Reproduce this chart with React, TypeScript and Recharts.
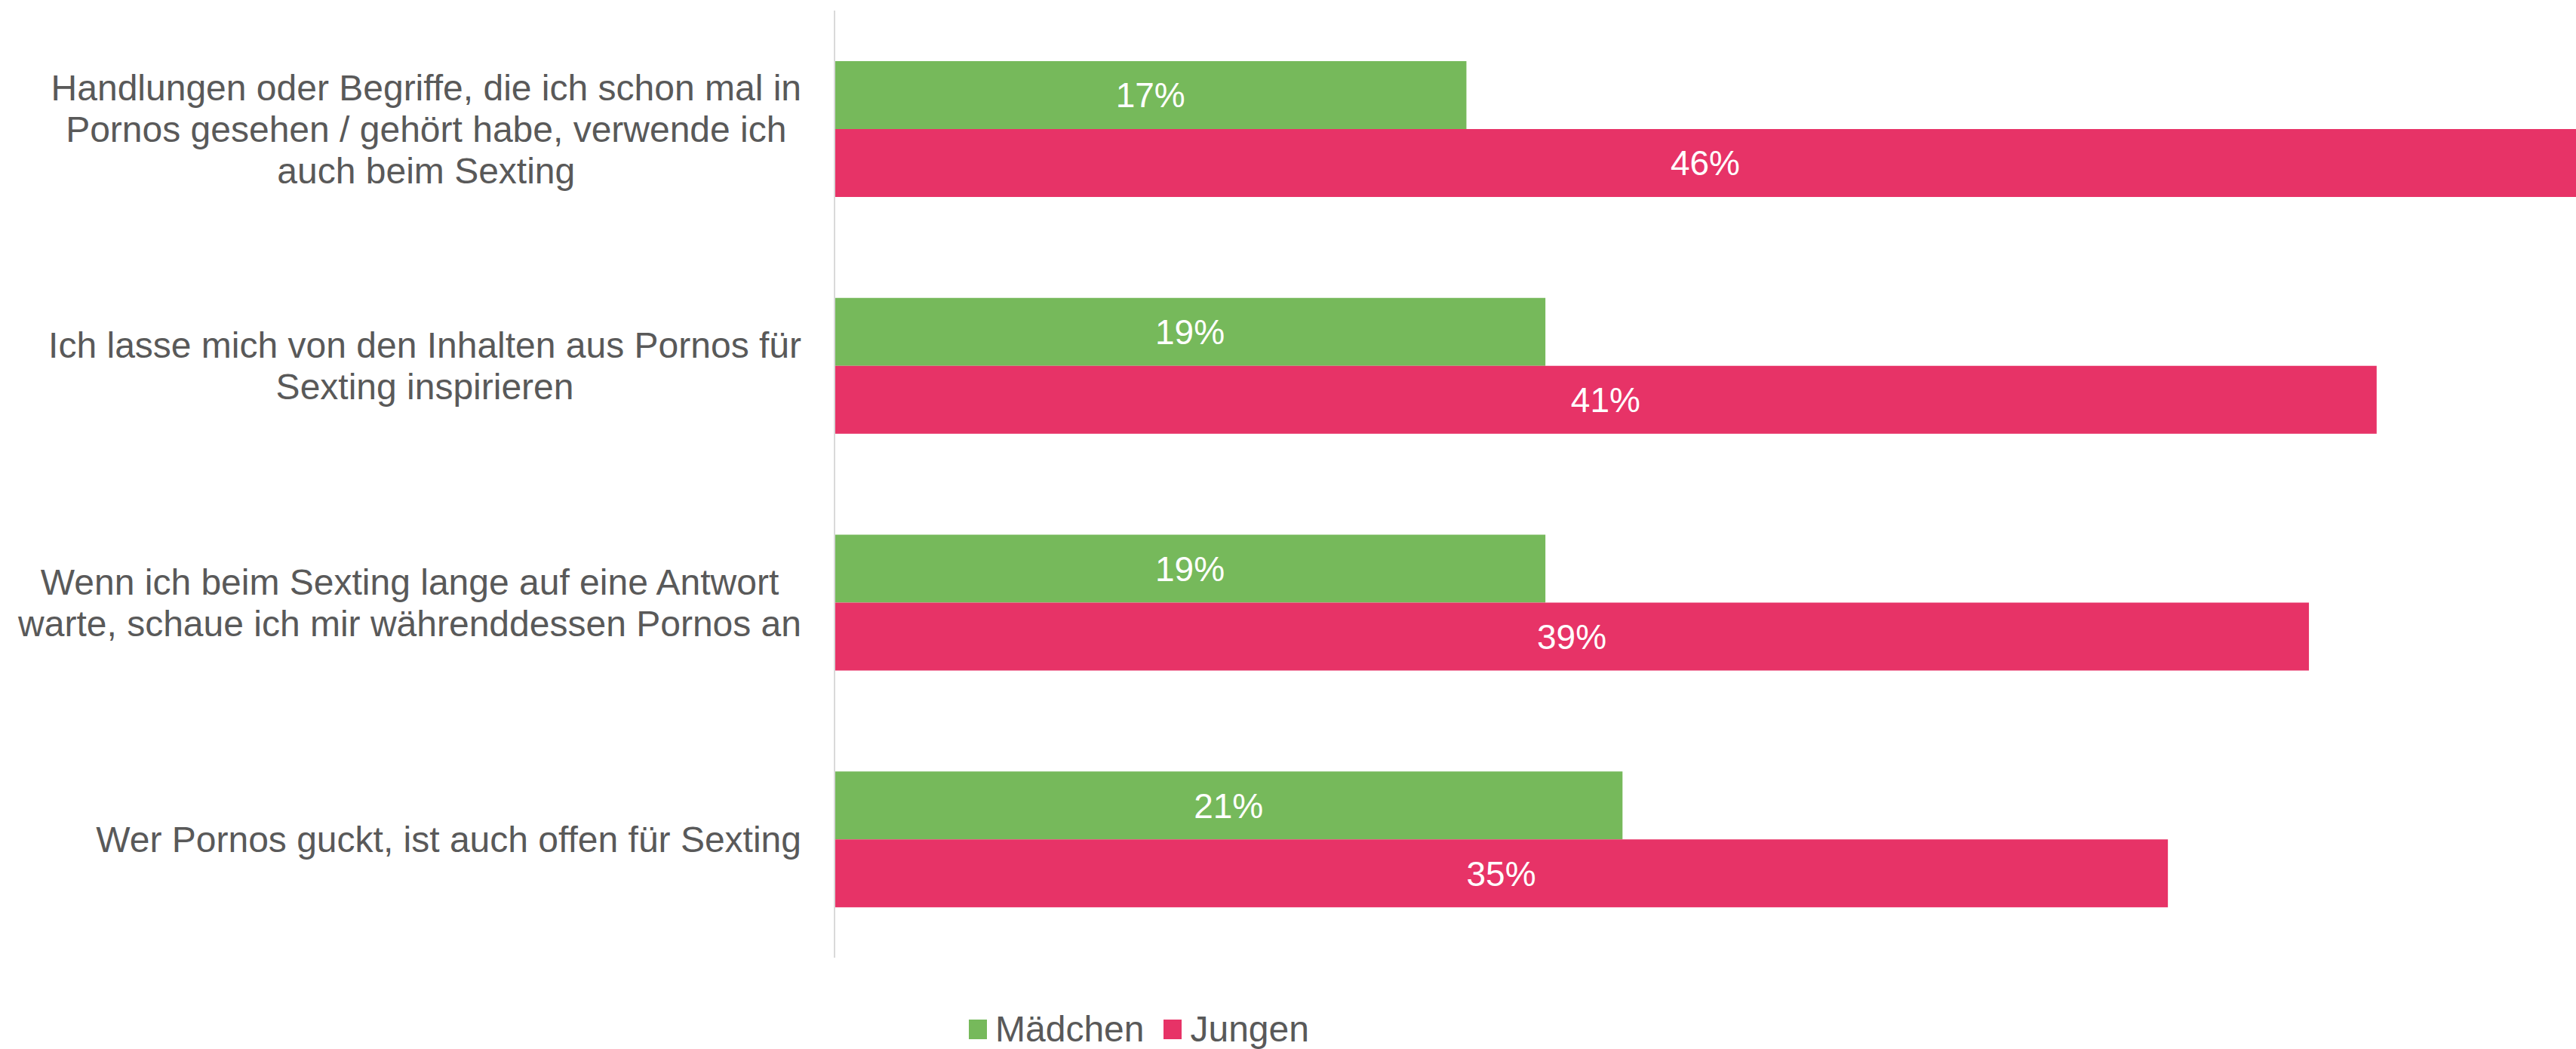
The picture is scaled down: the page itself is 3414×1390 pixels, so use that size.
import React from 'react'
import { BarChart, Bar, XAxis, YAxis, LabelList } from 'recharts'

const categories = [
  'Handlungen oder Begriffe, die ich schon mal in\nPornos gesehen / gehört habe, verwende ich\nauch beim Sexting',
  'Ich lasse mich von den Inhalten aus Pornos für\nSexting inspirieren',
  'Wenn ich beim Sexting lange auf eine Antwort\nwarte, schaue ich mir währenddessen Pornos an',
  'Wer Pornos guckt, ist auch offen für Sexting',
]
const maedchen = [16.8, 18.9, 18.9, 20.95]
const jungen = [46.3, 41.0, 39.2, 35.45]

const series = [
  { key: 'maedchen', name: 'Mädchen', color: '#76B95B' },
  { key: 'jungen', name: 'Jungen', color: '#E73367' },
]

const data = categories.map((c, i) => ({ cat: c, maedchen: maedchen[i], jungen: jungen[i] }))

const FONT = '"Liberation Sans", Arial, sans-serif'
const TEXT = '#595959'
const TICK_FS = 48
const LABEL_FS = 46
const LINE_H = 55

let ctx: CanvasRenderingContext2D | null = null
function textWidth(s: string) {
  if (!ctx) {
    ctx = document.createElement('canvas').getContext('2d')
    if (ctx) ctx.font = `${TICK_FS}px "Liberation Sans"`
  }
  return ctx ? ctx.measureText(s).width : s.length * TICK_FS * 0.5
}

// eslint-disable-next-line @typescript-eslint/no-explicit-any
function CategoryTick({ y, payload }: any) {
  const lines: string[] = String(payload.value).split('\n')
  const right = 1062
  const maxW = Math.max(...lines.map(textWidth))
  const cx = right - maxW / 2
  return (
    <text textAnchor="middle" fill={TEXT} fontSize={TICK_FS} fontFamily={FONT}>
      {lines.map((l, i) => (
        <tspan key={i} x={cx} y={y + (i - (lines.length - 1) / 2) * LINE_H + TICK_FS * 0.35}>{l}</tspan>
      ))}
    </text>
  )
}

const pct = (v: unknown) => `${Math.round(Number(v))}%`

export default function App() {
  return (
    <div style={{ position: 'absolute', left: 0, top: 0, width: 3414, height: 1390, background: '#fff', fontFamily: FONT }}>
      <BarChart
        layout="vertical"
        width={3414}
        height={1390}
        data={data}
        margin={{ top: 14, right: 0, bottom: 121, left: 0 }}
        barGap={0}
      >
        <XAxis type="number" domain={[0, 46.3]} hide allowDataOverflow />
        <YAxis
          type="category"
          dataKey="cat"
          width={1106}
          axisLine={{ stroke: '#D9D9D9', strokeWidth: 2 }}
          tickLine={false}
          tick={<CategoryTick />}
          interval={0}
        />
        {series.map((s) => (
          <Bar key={s.key} dataKey={s.key} name={s.name} fill={s.color} barSize={90} isAnimationActive={false}>
            <LabelList dataKey={s.key} position="center" fill="#fff" fontSize={LABEL_FS} fontFamily={FONT} formatter={pct} />
          </Bar>
        ))}
      </BarChart>
      <div style={{ position: 'absolute', left: 1284, top: 1341, height: 46, display: 'flex', alignItems: 'center', color: TEXT, fontSize: TICK_FS, lineHeight: '46px' }}>
        {series.map((s, i) => (
          <div key={s.key} style={{ display: 'flex', alignItems: 'center', marginRight: i === 0 ? 26 : 0 }}>
            <span style={{ display: 'inline-block', width: 24, height: 26, background: s.color, marginRight: 11 }} />
            <span>{s.name}</span>
          </div>
        ))}
      </div>
    </div>
  )
}
